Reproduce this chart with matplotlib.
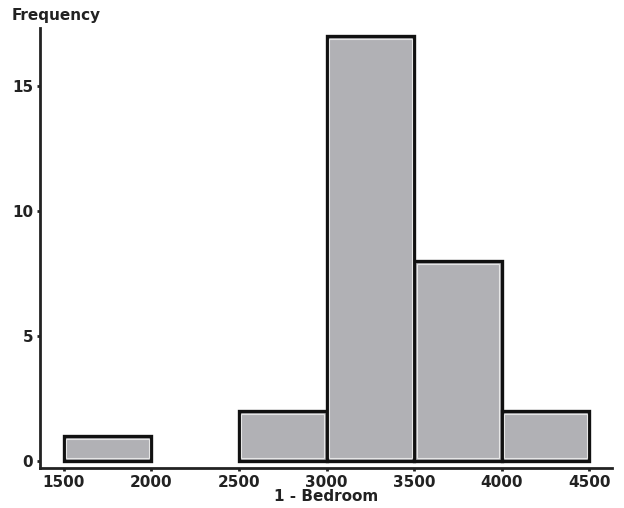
import numpy as np
import matplotlib.pyplot as plt

# histogram of 1-bedroom rents
bin_edges = [1500, 2000, 2500, 3000, 3500, 4000, 4500]
counts = [1, 0, 2, 17, 8, 2]
x_ticks = [1500, 2000, 2500, 3000, 3500, 4000, 4500]
y_ticks = [0, 5, 10, 15]

fig = plt.figure(figsize=(6.24, 5.08), dpi=100)
ax = fig.add_axes([0.064, 0.0787, 0.917, 0.866])

lefts = np.array(bin_edges[:-1])
widths = np.diff(bin_edges)
heights = np.array(counts)
mask = heights > 0

# outer black outline
ax.bar(lefts[mask], heights[mask], width=widths[mask], align='edge',
       color='#b1b1b5', edgecolor='#111111', linewidth=2.4)
# thin light inner line
dx, dy = 14, 0.12
ax.bar(lefts[mask] + dx, heights[mask] - 2 * dy, bottom=dy,
       width=widths[mask] - 2 * dx, align='edge',
       color='none', edgecolor='#e6e6e6', linewidth=0.8)

ax.set_xlim(1363, 4631)
ax.set_ylim(-0.28, 17.3)
ax.set_xticks(x_ticks)
ax.set_yticks(y_ticks)
ax.tick_params(length=2, width=2, labelsize=11, color='#222222', pad=3)
for lab in ax.get_xticklabels() + ax.get_yticklabels():
    lab.set_fontweight('bold')
    lab.set_color('#222222')

for s in ['top', 'right']:
    ax.spines[s].set_visible(False)
for s in ['left', 'bottom']:
    ax.spines[s].set_linewidth(2)
    ax.spines[s].set_color('#222222')

ax.set_xlabel('1 - Bedroom', fontsize=11, fontweight='bold', color='#222222', labelpad=-1)
fig.text(0.019, 0.97, 'Frequency', fontsize=11, fontweight='bold', color='#222222',
         ha='left', va='center')

fig.savefig('out.png', dpi=100)
